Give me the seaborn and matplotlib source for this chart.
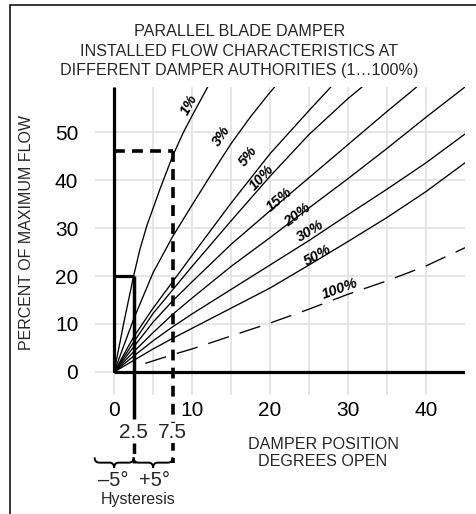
import numpy as np
import pandas as pd
import matplotlib
matplotlib.use("Agg")
import matplotlib.pyplot as plt
from matplotlib.lines import Line2D
from matplotlib.path import Path
from matplotlib.patches import PathPatch
import seaborn as sns

# --- data (damper position in degrees, % of max flow) ---
auth_labels = ["1%", "3%", "5%", "10%", "15%", "20%", "30%", "50%", "100%"]

a1_x = [0, 1.25, 2.5, 3.3, 4.2, 5.9, 7.5, 8.9, 10, 12]
a1_y = [0, 10.3, 20, 25.5, 30.5, 38.2, 45, 50, 53.4, 59.4]
a3_x = [0, 2.5, 5, 7.5, 10, 12.5, 15, 17.5, 20, 20.6]
a3_y = [0, 11, 20.7, 28.2, 34.8, 41.3, 47.6, 53.2, 58.3, 59.4]
a5_x = [0, 2.5, 5, 7.5, 10, 15, 20, 25, 27.8]
a5_y = [0, 7.3, 13.3, 18.8, 24.3, 35.2, 45.5, 54.5, 59.4]
a10_x = [0, 2.5, 5, 7.5, 10, 15, 20, 25, 30, 31.8]
a10_y = [0, 6.2, 12.2, 17.1, 22, 31.5, 40.8, 49.5, 57, 59.4]
a15_x = [0, 2.5, 5, 7.5, 10, 15, 20, 25, 30, 35, 38.8]
a15_y = [0, 5.2, 10.4, 14.8, 18.8, 26.6, 33.6, 40.5, 47.4, 54.3, 59.4]
a20_x = [0, 2.5, 5, 7.5, 10, 15, 20, 25, 30, 35, 40, 45]
a20_y = [0, 4.2, 8.2, 12, 15.4, 22, 28, 34.2, 40.3, 46.6, 53.1, 59.4]
a30_x = [0, 2.5, 5, 7.5, 10, 15, 20, 25, 30, 35, 40, 45]
a30_y = [0, 3.3, 6.5, 9.4, 12.1, 17.2, 22.3, 27.4, 32.8, 38.1, 43.6, 49.6]
a50_x = [0, 2.5, 5, 7.5, 10, 15, 20, 25, 30, 35, 40, 45]
a50_y = [0, 2.4, 4.8, 7, 9.1, 13.3, 17.5, 22.3, 27.2, 32.2, 37.6, 43.6]
a100_x = [4, 7.5, 10, 15, 20, 25, 30, 35, 40, 45]
a100_y = [1.8, 3.6, 4.8, 7.5, 10.2, 13.1, 16.2, 19, 22.1, 25.9]

hyst_low = 2.5      # closing position
hyst_high = 7.5     # opening position
flow_low = 20
flow_high = 46

x_ticks = [0, 10, 20, 30, 40]
y_ticks = [0, 10, 20, 30, 40, 50]

curves = [(a1_x, a1_y), (a3_x, a3_y), (a5_x, a5_y), (a10_x, a10_y), (a15_x, a15_y),
          (a20_x, a20_y), (a30_x, a30_y), (a50_x, a50_y), (a100_x, a100_y)]

# label placement along the curves
lab_pos = [(9.6, 55.6), (13.8, 49.2), (17.2, 45.0), (19.0, 40.5), (21.2, 36.0),
           (23.5, 32.8), (25.2, 29.3), (26.1, 24.4), (29.0, 17.3)]
lab_rot = [62, 56, 52, 47, 40, 37, 31, 29, 20]

sns.set_theme(style="white")
plt.rcParams['font.family'] = ['Liberation Sans', 'DejaVu Sans']

fig = plt.figure(figsize=(4.76, 5.14), dpi=100)
ax = fig.add_axes([95 / 476, 119 / 514, 370 / 476, 308 / 514])
XMIN, XMAX, YMIN, YMAX = -2.45, 45, -4.8, 59.4

# grid
ax.set_xticks(x_ticks)
ax.set_xticks([5, 15, 25, 35], minor=True)
ax.set_yticks(y_ticks)
ax.grid(which='both', color='#e2e2e2', lw=1.2)
ax.set_axisbelow(True)
ax.tick_params(axis='both', which='both', length=0, labelsize=15, colors='black')
ax.tick_params(axis='x', pad=4)
ax.tick_params(axis='y', pad=12)
for s in ax.spines.values():
    s.set_visible(False)

# curves
for i, (xs, ys) in enumerate(curves):
    df = pd.DataFrame({'x': xs, 'y': ys})
    if auth_labels[i] == "100%":
        sns.lineplot(data=df, x='x', y='y', ax=ax, color='black', lw=0.95,
                     linestyle=(0, (16.5, 8.5)), estimator=None)
    else:
        sns.lineplot(data=df, x='x', y='y', ax=ax, color='black', lw=0.95, estimator=None)
    ax.text(lab_pos[i][0], lab_pos[i][1], auth_labels[i], rotation=lab_rot[i],
            rotation_mode='anchor', ha='center', va='center', fontsize=10.5,
            fontweight='bold', fontstyle='italic', color='black')

# main axis lines
ax.plot([0, 0], [0, YMAX], color='black', lw=2.3, solid_capstyle='butt')
ax.plot([0, XMAX], [0, 0], color='black', lw=2.3, solid_capstyle='butt')

# hysteresis markers
ax.plot([0, hyst_low], [flow_low, flow_low], color='black', lw=2.3, solid_capstyle='butt')
ax.plot([hyst_low, hyst_low], [flow_low, -9.8], color='black', lw=2.5,
        solid_capstyle='butt', clip_on=False)
ax.plot([hyst_low, hyst_low], [-14.8, -19], color='black', lw=2.5,
        linestyle=(0, (3, 2)), clip_on=False)
ax.plot([0, hyst_high], [flow_high, flow_high], color='black', lw=2.6,
        linestyle=(0, (3, 2)))
ax.plot([hyst_high, hyst_high], [flow_high, -19], color='black', lw=2.6,
        linestyle=(0, (3, 2)), clip_on=False)

for xv, txt in [(hyst_low, "2.5"), (hyst_high, "7.5")]:
    ax.text(xv, -12.7, txt, ha='center', va='center', fontsize=15,
            bbox=dict(facecolor='white', edgecolor='none', pad=0.5), clip_on=False)


def brace(x0, x1, y, h):
    xm = (x0 + x1) / 2
    verts = [(x0, y + h), (x0, y), (x0 + 0.6, y), (xm - 0.6, y), (xm, y), (xm, y - h),
             (xm, y - h), (xm, y), (xm + 0.6, y), (x1 - 0.6, y), (x1, y), (x1, y + h)]
    codes = [Path.MOVETO, Path.CURVE3, Path.CURVE3, Path.LINETO, Path.CURVE3, Path.CURVE3,
             Path.MOVETO, Path.CURVE3, Path.CURVE3, Path.LINETO, Path.CURVE3, Path.CURVE3]
    ax.add_patch(PathPatch(Path(verts, codes), fill=False, lw=1.4, color='black',
                           clip_on=False))


brace(hyst_low - 5, hyst_low, -18.9, 1.1)
brace(hyst_low, hyst_high, -18.9, 1.1)
ax.text(-0.1, -22.6, "\u20135\u00b0", ha='center', va='center', fontsize=14.5, clip_on=False)
ax.text(5.2, -22.6, "+5\u00b0", ha='center', va='center', fontsize=14.5, clip_on=False)
ax.text(3.1, -26.6, "Hysteresis", ha='center', va='center', fontsize=11.5, clip_on=False)

ax.text(26.8, -16.9, "DAMPER POSITION\nDEGREES OPEN", ha='center', va='center',
        fontsize=11.6, linespacing=1.22, clip_on=False)

ax.set_xlim(XMIN, XMAX)
ax.set_ylim(YMIN, YMAX)
ax.set_xlabel("")
ax.set_ylabel("")

fig.text(239.5 / 476, 1 - 51 / 514,
         "PARALLEL BLADE DAMPER\nINSTALLED FLOW CHARACTERISTICS AT\n"
         "DIFFERENT DAMPER AUTHORITIES (1\u2026100%)",
         ha='center', va='center', fontsize=11.6, linespacing=1.38)
fig.text(27 / 476, 1 - 233 / 514, "PERCENT OF MAXIMUM FLOW", rotation=90,
         ha='center', va='center', fontsize=11.5)

# frame lines (left and top)
fig.add_artist(Line2D([10 / 476, 10 / 476], [0, 1 - 5 / 514], color='black', lw=1.1))
fig.add_artist(Line2D([10 / 476, 1], [1 - 5 / 514, 1 - 5 / 514], color='black', lw=1.1))

fig.savefig("out.png", dpi=100)
